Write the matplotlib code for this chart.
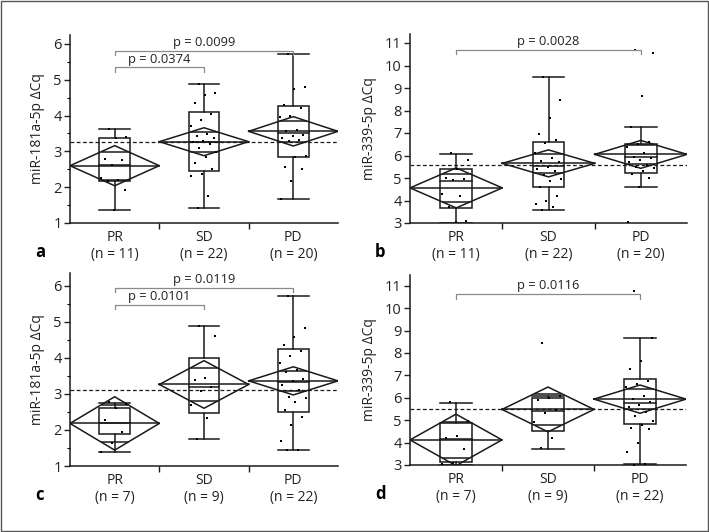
import numpy as np
import matplotlib
matplotlib.use("Agg")
import matplotlib.pyplot as plt
from matplotlib.patches import Rectangle

plt.rcParams["font.family"] = ["Open Sans", "DejaVu Sans"]

groups = ["PR", "SD", "PD"]

# --- panel a: miR-181a-5p
a_n = [11, 22, 20]
a_pts = [
    [3.63, 3.4, 3.38, 2.78, 2.75, 2.62, 2.27, 2.2, 2.18, 1.92, 1.37],
    [4.88, 4.62, 4.58, 4.35, 4.05, 3.87, 3.7, 3.48, 3.42, 3.38, 3.3,
     3.25, 3.22, 3.1, 2.97, 2.85, 2.68, 2.52, 2.38, 2.32, 1.75, 1.43],
    [5.71, 4.8, 4.75, 4.3, 4.22, 3.98, 3.95, 3.6, 3.58, 3.45, 3.42,
     3.38, 3.32, 3.3, 2.88, 2.85, 2.55, 2.5, 2.18, 1.68],
]
a_q1 = [2.17, 2.44, 2.84]
a_med = [2.62, 3.25, 3.5]
a_q3 = [3.38, 4.11, 4.27]
a_wlo = [1.35, 1.42, 1.67]
a_whi = [3.63, 4.88, 5.71]
a_mean = [2.6, 3.27, 3.56]
a_ci = [0.56, 0.39, 0.41]
a_grand = 3.25

# --- panel b: miR-339-5p
b_n = [11, 22, 20]
b_pts = [
    [6.1, 5.8, 5.4, 5.0, 4.95, 4.9, 4.3, 4.2, 3.7, 3.1, 3.05],
    [9.5, 8.45, 7.65, 6.95, 6.7, 6.55, 6.1, 5.9, 5.75, 5.7, 5.5,
     5.4, 5.3, 5.15, 4.95, 4.85, 4.6, 4.2, 4.0, 3.85, 3.7, 3.6],
    [10.7, 10.55, 8.65, 7.25, 6.6, 6.5, 6.4, 6.1, 5.95, 5.9, 5.8,
     5.7, 5.6, 5.5, 5.45, 5.3, 5.2, 5.0, 4.6, 3.05],
]
b_q1 = [3.67, 4.6, 5.22]
b_med = [4.86, 5.55, 5.94]
b_q3 = [5.38, 6.6, 6.5]
b_wlo = [3.0, 3.57, 4.6]
b_whi = [6.05, 9.5, 7.27]
b_mean = [4.56, 5.65, 6.05]
b_ci = [0.89, 0.6, 0.62]
b_grand = 5.57

# --- panel c: miR-181a-5p
c_n = [7, 9, 22]
c_pts = [
    [2.78, 2.72, 2.6, 2.27, 1.93, 1.65, 1.39],
    [4.88, 4.6, 3.45, 3.38, 3.2, 3.08, 2.68, 2.32, 1.75],
    [5.72, 4.82, 4.58, 4.35, 4.2, 4.05, 3.85, 3.65, 3.6, 3.4, 3.35,
     3.25, 3.1, 2.9, 2.88, 2.78, 2.55, 2.35, 2.15, 1.7, 1.45, 1.44],
]
c_q1 = [1.9, 2.48, 2.5]
c_med = [2.2, 3.2, 3.34]
c_q3 = [2.6, 4.0, 4.24]
c_wlo = [1.39, 1.76, 1.44]
c_whi = [2.76, 4.89, 5.72]
c_mean = [2.18, 3.26, 3.36]
c_ci = [0.74, 0.66, 0.39]
c_grand = 3.1

# --- panel d: miR-339-5p
d_n = [7, 9, 22]
d_pts = [
    [5.8, 4.95, 4.3, 4.22, 3.7, 3.1, 3.05],
    [8.45, 6.1, 6.0, 5.9, 5.45, 5.3, 4.9, 4.2, 3.75],
    [10.75, 8.65, 7.65, 7.3, 6.75, 6.6, 6.5, 6.1, 5.95, 5.8, 5.7,
     5.6, 5.35, 5.2, 4.95, 4.8, 4.65, 4.6, 4.0, 3.6, 3.05, 3.02],
]
d_q1 = [3.15, 4.52, 4.81]
d_med = [4.15, 5.42, 5.75]
d_q3 = [4.89, 6.0, 6.84]
d_wlo = [3.0, 3.71, 3.03]
d_whi = [5.75, 6.1, 8.65]
d_mean = [4.12, 5.48, 5.94]
d_ci = [1.15, 1.0, 0.63]
d_grand = 5.48

# significance brackets: (group from, group to, y, p text)
a_sig = [(0, 1, 5.35, "p = 0.0374"), (0, 2, 5.81, "p = 0.0099")]
b_sig = [(0, 2, 10.7, "p = 0.0028")]
c_sig = [(0, 1, 5.47, "p = 0.0101"), (0, 2, 5.94, "p = 0.0119")]
d_sig = [(0, 2, 10.63, "p = 0.0116")]

ylabel_181 = "miR-181a-5p ΔCq"
ylabel_339 = "miR-339-5p ΔCq"

W, H = 709, 532
fig = plt.figure(figsize=(W / 100, H / 100), dpi=100)
fig.patches.append(Rectangle((0.002, 0.002), 0.996, 0.996, transform=fig.transFigure,
                             fill=False, edgecolor="#555555", linewidth=1.0))

def px_axes(l, t, r, b):
    return fig.add_axes([l / W, 1 - b / H, (r - l) / W, (b - t) / H])

panels = [
    (px_axes(70, 35, 338, 223), "a", a_n, a_pts, a_q1, a_med, a_q3, a_wlo, a_whi,
     a_mean, a_ci, a_grand, a_sig, (1, 6.25), range(1, 7), 0.5, ylabel_181, 0.13),
    (px_axes(410, 34, 687, 223), "b", b_n, b_pts, b_q1, b_med, b_q3, b_wlo, b_whi,
     b_mean, b_ci, b_grand, b_sig, (3, 11.4), range(3, 12), None, ylabel_339, 0.2),
    (px_axes(70, 273, 338, 466), "c", c_n, c_pts, c_q1, c_med, c_q3, c_wlo, c_whi,
     c_mean, c_ci, c_grand, c_sig, (1, 6.35), range(1, 7), 0.5, ylabel_181, 0.13),
    (px_axes(410, 275, 686, 465), "d", d_n, d_pts, d_q1, d_med, d_q3, d_wlo, d_whi,
     d_mean, d_ci, d_grand, d_sig, (3, 11.48), range(3, 12), None, ylabel_339, 0.2),
]

ink = "#1a1a1a"
bw = 0.17          # half box width
ov = 0.5 * (1 - 1 / np.sqrt(2))   # half width of overlap marks

for (ax, letter, n, pts, q1, med, q3, wlo, whi, mean, ci, grand, sig,
     ylim, yticks, minor, ylabel, tickdrop) in panels:
    for i in range(3):
        c = i + 0.5
        # box + whiskers
        ax.add_patch(Rectangle((c - bw, q1[i]), 2 * bw, q3[i] - q1[i],
                               fill=False, edgecolor=ink, lw=1.1, zorder=3))
        ax.plot([c - bw, c + bw], [med[i]] * 2, color=ink, lw=1.1, zorder=3)
        ax.plot([c, c], [q3[i], whi[i]], color=ink, lw=1.1, zorder=3)
        ax.plot([c, c], [wlo[i], q1[i]], color=ink, lw=1.1, zorder=3)
        ax.plot([c - bw, c + bw], [whi[i]] * 2, color=ink, lw=1.1, zorder=3)
        ax.plot([c - bw, c + bw], [wlo[i]] * 2, color=ink, lw=1.1, zorder=3)
        # means diamond
        m, h = mean[i], ci[i]
        ax.plot([i, c, i + 1, c, i], [m, m + h, m, m - h, m], color=ink, lw=1.1, zorder=4)
        ax.plot([i, i + 1], [m, m], color=ink, lw=1.1, zorder=4)
        for s in (1, -1):
            ax.plot([c - ov, c + ov], [m + s * h / np.sqrt(2)] * 2, color=ink, lw=1.1, zorder=4)
        # points, deterministic jitter
        k = np.arange(len(pts[i]))
        jit = ((k * 0.618 + 0.3) % 1 - 0.5) * 2 * bw * 0.9
        ax.scatter(c + jit, pts[i], s=3, marker="s", color="black", lw=0, zorder=5)

    ax.axhline(grand, color=ink, lw=0.9, ls=(0, (3, 2)), zorder=2)

    for g0, g1, y, txt in sig:
        x0, x1 = g0 + 0.5, g1 + 0.5
        ax.plot([x0, x0, x1, x1], [y - tickdrop, y, y, y - tickdrop],
                color="#8a8a8a", lw=0.9, clip_on=False, zorder=6)
        ax.text((x0 + x1) / 2, y + tickdrop * 0.35, txt, ha="center", va="bottom",
                fontsize=9.3, color="#222222", clip_on=False)

    ax.set_xlim(0, 3)
    ax.set_ylim(*ylim)
    ax.set_yticks(list(yticks))
    if minor:
        ax.set_yticks(np.arange(ylim[0] + minor, ylim[1], 1.0), minor=True)
    ax.set_xticks([0.5, 1.5, 2.5])
    ax.set_xticklabels([f"{g}\n(n = {nn})" for g, nn in zip(groups, n)],
                       linespacing=1.15)
    ax.set_xticks([1, 2], minor=True)
    ax.tick_params(axis="x", which="major", length=0, pad=5, labelsize=10, colors="#222222")
    ax.tick_params(axis="x", which="minor", length=4, width=1, color=ink)
    ax.tick_params(axis="y", which="major", length=4, width=1, labelsize=10.5,
                   colors="#222222", pad=2)
    ax.tick_params(axis="y", which="minor", length=2.5, width=0.8)
    for side in ("top", "right"):
        ax.spines[side].set_visible(False)
    for side in ("left", "bottom"):
        ax.spines[side].set_linewidth(1.1)
        ax.spines[side].set_color(ink)
    ax.set_ylabel(ylabel, fontsize=10, color="#222222", labelpad=6)
    ax.patch.set_alpha(0)

    pos = ax.get_position()
    fig.text(pos.x0 - 35 / W, pos.y0 - 29 / H, letter, fontsize=12, fontweight="bold",
             ha="left", va="center")

fig.savefig("out.png", dpi=100)
